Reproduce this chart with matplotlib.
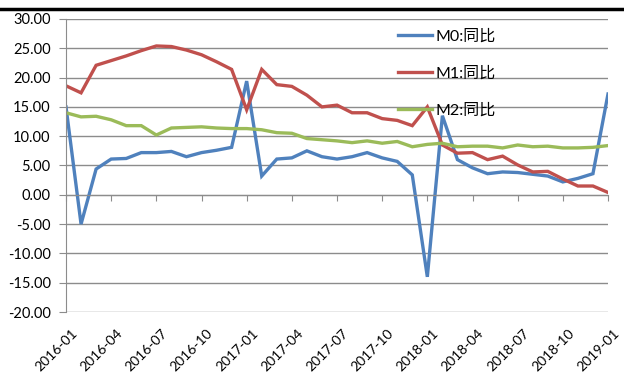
import matplotlib.pyplot as plt
import matplotlib.transforms as mtransforms
import numpy as np

# Datos (variación interanual, %)
months = ['2016-01', '2016-02', '2016-03', '2016-04', '2016-05', '2016-06',
          '2016-07', '2016-08', '2016-09', '2016-10', '2016-11', '2016-12',
          '2017-01', '2017-02', '2017-03', '2017-04', '2017-05', '2017-06',
          '2017-07', '2017-08', '2017-09', '2017-10', '2017-11', '2017-12',
          '2018-01', '2018-02', '2018-03', '2018-04', '2018-05', '2018-06',
          '2018-07', '2018-08', '2018-09', '2018-10', '2018-11', '2018-12',
          '2019-01']
m0 = [15.0, -5.0, 4.4, 6.1, 6.2, 7.2, 7.2, 7.4, 6.5, 7.2, 7.6, 8.1,
      19.4, 3.2, 6.1, 6.3, 7.5, 6.5, 6.1, 6.5, 7.2, 6.3, 5.7, 3.4,
      -14.0, 13.5, 6.0, 4.6, 3.6, 3.9, 3.8, 3.5, 3.2, 2.2, 2.8, 3.6,
      17.2]
m1 = [18.6, 17.4, 22.1, 22.9, 23.7, 24.6, 25.4, 25.3, 24.7, 23.9, 22.7, 21.4,
      14.5, 21.4, 18.8, 18.5, 17.0, 15.0, 15.3, 14.0, 14.0, 13.0, 12.7, 11.8,
      15.0, 8.5, 7.1, 7.2, 6.0, 6.6, 5.1, 3.9, 4.0, 2.7, 1.5, 1.5,
      0.4]
m2 = [14.0, 13.3, 13.4, 12.8, 11.8, 11.8, 10.2, 11.4, 11.5, 11.6, 11.4, 11.3,
      11.3, 11.1, 10.6, 10.5, 9.6, 9.4, 9.2, 8.9, 9.2, 8.8, 9.1, 8.2,
      8.6, 8.8, 8.2, 8.3, 8.3, 8.0, 8.5, 8.2, 8.3, 8.0, 8.0, 8.1,
      8.4]
labels = ['M0:同比', 'M1:同比', 'M2:同比']
colors = ['#4F81BD', '#C0504D', '#9BBB59']

plt.rcParams['font.family'] = ['Lato', 'Noto Sans CJK SC', 'DejaVu Sans']
grid_c = '#8c8c8c'

fig = plt.figure(figsize=(6.24, 3.78), dpi=100)
ax = fig.add_axes([66/624, 1 - 312/378, 542/624, 293/378])

x = np.arange(len(months))
for serie, lab, c in zip([m0, m1, m2], labels, colors):
    ax.plot(x, serie, color=c, lw=2.4, label=lab, solid_joinstyle='miter')

ax.set_xlim(0, len(months) - 1)
ax.set_ylim(-20, 30)
ax.set_yticks(np.arange(-20, 31, 5))
ax.yaxis.set_major_formatter(plt.FuncFormatter(lambda v, p: f'{v:.2f}'))
ax.grid(axis='y', color=grid_c, lw=1)
ax.set_axisbelow(True)

for s in ['top', 'right']:
    ax.spines[s].set_visible(False)
ax.spines['left'].set_color(grid_c)
ax.spines['bottom'].set_position(('data', 0))
ax.spines['bottom'].set_color(grid_c)

xt = x[::3]
ax.set_xticks(xt)
ax.tick_params(axis='x', labelbottom=False, direction='out', length=4,
               color=grid_c)
ax.tick_params(axis='y', length=5, color=grid_c, labelsize=10.5, pad=6)

sec = ax.secondary_xaxis(0)
sec.set_xticks(xt)
sec.set_xticklabels(months[::3], rotation=45, ha='right',
                    rotation_mode='anchor', fontsize=10)
sec.tick_params(length=0, pad=11)
sec.spines['bottom'].set_visible(False)
desplaza = mtransforms.ScaledTranslation(5/100, 0, fig.dpi_scale_trans)
for t in sec.get_xticklabels():
    t.set_transform(t.get_transform() + desplaza)

ax.legend(loc='upper left', bbox_to_anchor=(392/624, 1 - 23/378),
          bbox_transform=fig.transFigure, frameon=False, fontsize=11.5,
          handlelength=2.1, labelspacing=1.4, handletextpad=0.2,
          borderaxespad=0)

# línea negra superior (encabezado recortado)
fig.add_artist(plt.Line2D([0, 1], [1 - 9/378, 1 - 9/378], color='black',
                          lw=2.5, transform=fig.transFigure))

fig.savefig('out.png', dpi=100)
